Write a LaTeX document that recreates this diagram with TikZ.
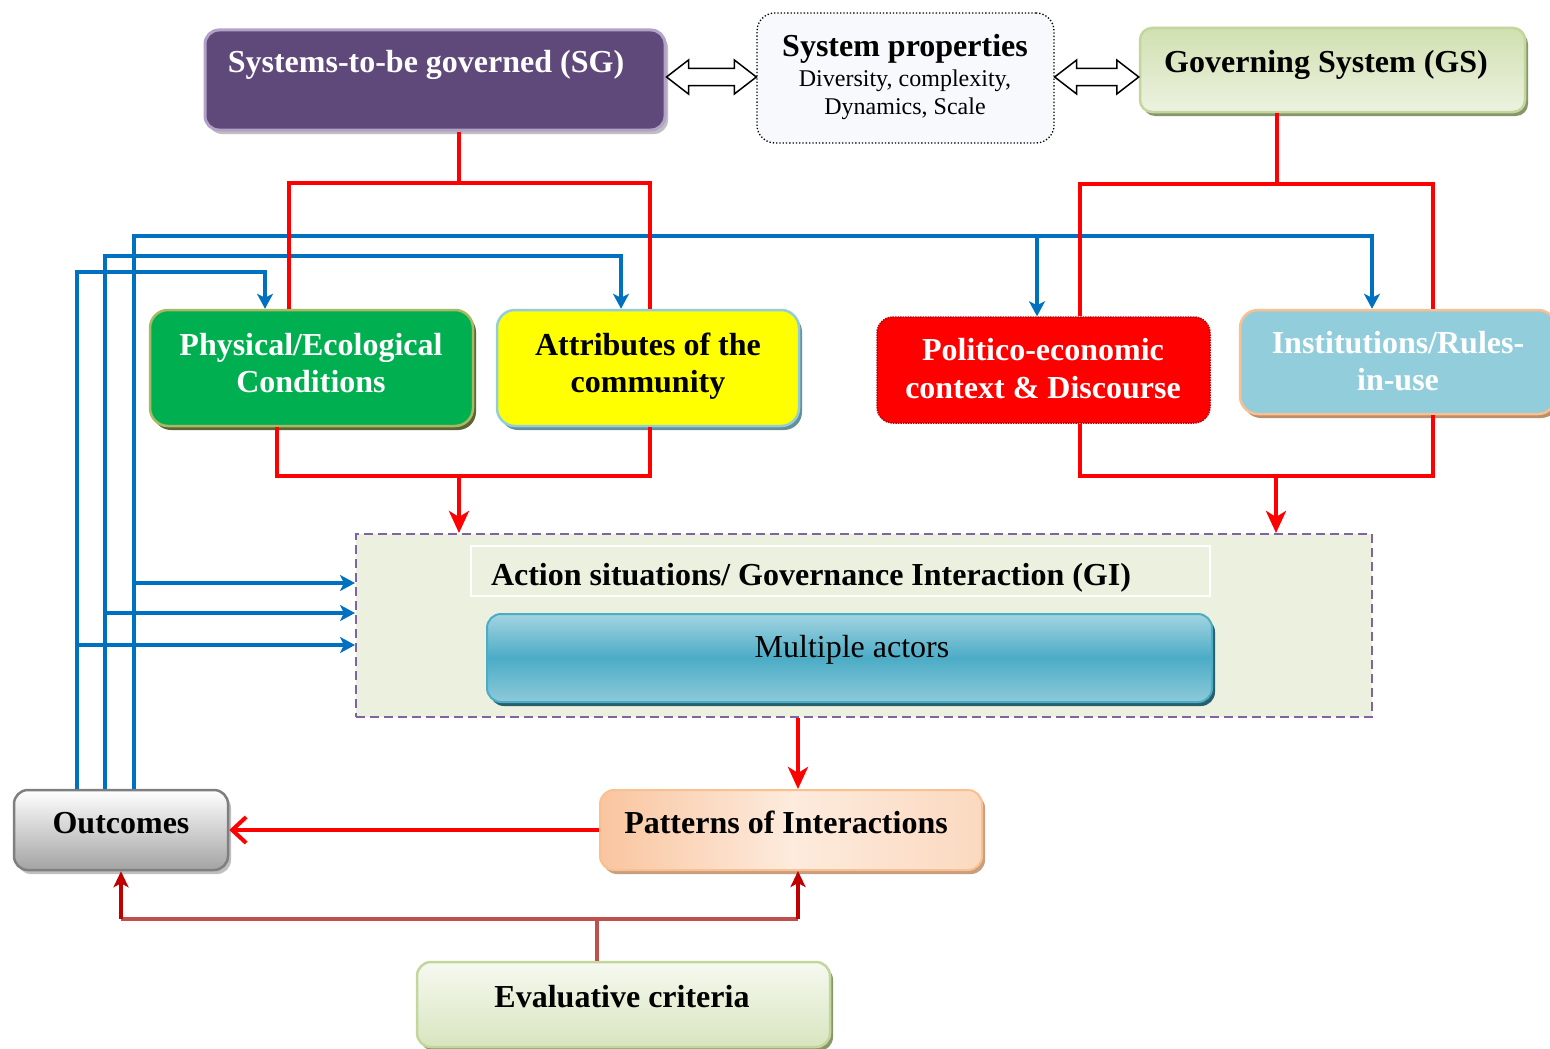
\documentclass[tikz,border=0pt]{standalone}
\usepackage{fontspec}
\setmainfont{Liberation Serif}
\usetikzlibrary{arrows.meta,shadows,calc}

\definecolor{sgfill}{HTML}{5F497A}
\definecolor{sgedge}{HTML}{B3A2C7}
\definecolor{gsedge}{HTML}{C3D69B}
\definecolor{gsA}{HTML}{D1E0B1}
\definecolor{gsB}{HTML}{ECF2E0}
\definecolor{physfill}{HTML}{00B050}
\definecolor{physedge}{HTML}{A9B863}
\definecolor{attrfill}{HTML}{FFFF00}
\definecolor{attredge}{HTML}{92CDDC}
\definecolor{poledge}{HTML}{C00000}
\definecolor{instfill}{HTML}{92CDDC}
\definecolor{instedge}{HTML}{FAC090}
\definecolor{actfill}{HTML}{EBF1DE}
\definecolor{actedge}{HTML}{8064A2}
\definecolor{mA}{HTML}{A3D4E1}
\definecolor{mB}{HTML}{4BACC6}
\definecolor{mC}{HTML}{8ECAD9}
\definecolor{medge}{HTML}{4BACC6}
\definecolor{patA}{HTML}{F9C59F}
\definecolor{patB}{HTML}{FDEBDD}
\definecolor{patC}{HTML}{FBD9C0}
\definecolor{patedge}{HTML}{FAC090}
\definecolor{outedge}{HTML}{7F7F7F}
\definecolor{evA}{HTML}{F6F9F0}
\definecolor{evB}{HTML}{D8E5BF}
\definecolor{spfill}{HTML}{F8F9FC}
\definecolor{linkred}{HTML}{FF0000}
\definecolor{linkblue}{HTML}{0070C0}
\definecolor{evline}{HTML}{C0504D}
\definecolor{evtip}{HTML}{C00000}

% double-headed hollow arrow between two anchors
\newcommand\twoway[2]{%
  \draw[twoway] let \p1=(#1), \p2=(#2) in
    (\x1,\y1) -- (\x1+22pt,\y1+17pt) -- (\x1+22pt,\y1+8.5pt)
    -- (\x2-22pt,\y1+8.5pt) -- (\x2-22pt,\y1+17pt) -- (\x2,\y1)
    -- (\x2-22pt,\y1-17pt) -- (\x2-22pt,\y1-8.5pt)
    -- (\x1+22pt,\y1-8.5pt) -- (\x1+22pt,\y1-17pt) -- cycle;}

\begin{document}
\begin{tikzpicture}[x=1pt,y=-1pt,
  dims/.style 2 args={minimum width=#1pt, minimum height=#2pt, inner sep=0pt},
  shade/.style={drop shadow={shadow xshift=3pt, shadow yshift=-4pt, fill=#1, opacity=1}},
  lbl/.style={font=\fontsize{32}{38}\selectfont\bfseries, inner sep=0pt, anchor=base},
  lblw/.style={lbl, text=white},
  lblreg/.style={font=\fontsize{32}{38}\selectfont, inner sep=0pt, anchor=base},
  lblsub/.style={font=\fontsize{24}{28}\selectfont, inner sep=0pt, anchor=base},
  twoway/.style={draw=black, fill=white, line width=1.5pt, line join=miter},
  redln/.style={draw=linkred, line width=4pt},
  redarr/.style={redln, -{Stealth[length=22pt,width=20pt,inset=6pt]}},
  redbarb/.style={redln, -{Straight Barb[length=14pt,width=26pt]}},
  bluearr/.style={draw=linkblue, line width=4pt, -{Stealth[length=15pt,width=16pt,inset=4pt]}},
  evln/.style={draw=evline, line width=4pt},
  evarr/.style={draw=evtip, line width=4pt, -{Stealth[length=16pt,width=15pt,inset=4pt]}},
]
\useasboundingbox (0,0) rectangle (1550,1049);
\fill[white] (0,0) rectangle (1550,1049);

% ---------- top row ----------
\node[dims={460}{100}, rounded corners=14pt, fill=sgfill, draw=sgedge,
      line width=3pt, shade=black!25] (sg) at (435,80) {};
\node[lblw] (sgT) at (426,73) {Systems-to-be governed (SG)};

\node[dims={297}{130}, rounded corners=18pt, fill=spfill, draw=black,
      line width=1.3pt, dotted] (sp) at (905.5,78) {};
\node[lbl] (spT) at (905,57) {System properties};
\node[lblsub] (spA) at (905,87) {Diversity, complexity,};
\node[lblsub] (spB) at (905,114) {Dynamics, Scale};

\node[dims={385}{84}, rounded corners=12pt, top color=gsA, bottom color=gsB,
      draw=gsedge, line width=2.5pt, shade=black!30!gsedge] (gs) at (1332.5,70) {};
\node[lbl] (gsT) at (1326,73) {Governing System (GS)};

\twoway{[yshift=3pt]sg.east}{sp.west}
\twoway{[yshift=1pt]sp.east}{gs.west}

% ---------- second row ----------
\node[dims={323}{116}, rounded corners=18pt, fill=physfill, draw=physedge,
      line width=2.5pt, shade=black!45!physedge] (phys) at (311.5,368) {};
\node[lblw] (physA) at (311,355) {Physical/Ecological};
\node[lblw] (physB) at (311,392) {Conditions};

\node[dims={302}{116}, rounded corners=18pt, fill=attrfill, draw=attredge,
      line width=2.5pt, shade=black!30!attredge] (attr) at (648,368) {};
\node[lbl] (attrA) at (648,355) {Attributes of the};
\node[lbl] (attrB) at (648,392) {community};

\node[dims={333}{106}, rounded corners=16pt, fill=linkred, draw=poledge,
      line width=1.5pt, densely dotted] (pol) at (1043.5,370) {};
\node[lblw] (polA) at (1043,360) {Politico-economic};
\node[lblw] (polB) at (1043,398) {context \& Discourse};

\node[dims={316}{104}, rounded corners=18pt, fill=instfill, draw=instedge,
      line width=2.5pt, shade=black!25!instedge] (inst) at (1398,362) {};
\node[lblw] (instA) at (1398,353) {Institutions/Rules-};
\node[lblw] (instB) at (1398,390) {in-use};

% ---------- action situation ----------
\node[dims={1016}{183}, fill=actfill, draw=actedge, line width=2pt,
      dash pattern=on 9pt off 5pt] (act) at (864,625.5) {};
\node[dims={739}{50}, draw=white, line width=1.5pt] (acttitle) at (840.5,571) {};
\node[lbl] (actT) at (811,585) {Action situations/ Governance Interaction (GI)};
\node[dims={725}{88}, rounded corners=14pt, top color=mA, bottom color=mC,
      middle color=mB, draw=medge, line width=2pt, shade=black!45!medge] (actors) at (849.5,658) {};
\node[lblreg] (actorsT) at (852,657) {Multiple actors};

% ---------- bottom row ----------
\node[dims={382}{80}, rounded corners=14pt, left color=patA, right color=patC,
      middle color=patB, draw=patedge, line width=2pt, shade=black!20!patA] (pat) at (791,830) {};
\node[lbl] (patT) at (786,833) {Patterns of Interactions};

\node[dims={214}{80}, rounded corners=14pt, top color=white, bottom color=black!36,
      draw=outedge, line width=2.5pt, shade=black!25] (out) at (121,830) {};
\node[lbl] (outT) at (121,833) {Outcomes};

\node[dims={413}{85}, rounded corners=14pt, top color=evA, bottom color=evB,
      draw=gsedge, line width=2.5pt, shade=black!30!gsedge] (eval) at (623.5,1004.5) {};
\node[lbl] (evalT) at (622,1007) {Evaluative criteria};

% ---------- feedback from outcomes (blue) ----------
\coordinate (b1) at (77,272);   \coordinate (b1e) at (265,272);
\coordinate (b2) at (105,256);  \coordinate (b2e) at (621,256);
\coordinate (b3) at (134,236);  \coordinate (b3e) at (1372,236);
\coordinate (b3m) at (1037,236);
\draw[bluearr] (out.north -| b1) -- (b1) -- (b1e) -- (phys.north -| b1e);
\draw[bluearr] (out.north -| b2) -- (b2) -- (b2e) -- (attr.north -| b2e);
\draw[bluearr] (out.north -| b3) -- (b3) -- (b3e) -- (inst.north -| b3e);
\draw[bluearr] (b3m) -- (pol.north -| b3m);
\coordinate (h1) at (134,583);
\coordinate (h2) at (105,613);
\coordinate (h3) at (77,645);
\draw[bluearr] (h1) -- (act.west |- h1);
\draw[bluearr] (h2) -- (act.west |- h2);
\draw[bluearr] (h3) -- (act.west |- h3);

% ---------- red structure lines ----------
\coordinate (sgJ) at (459,183);
\coordinate (sgL) at (289,183);  \coordinate (sgR) at (650,183);
\draw[redln] (sg.south -| sgJ) -- (sgJ);
\draw[redln] (phys.north -| sgL) -- (sgL) -- (sgR) -- (attr.north -| sgR);

\coordinate (gsJ) at (1277,184);
\coordinate (gsL) at (1080,184); \coordinate (gsR) at (1433,184);
\draw[redln] (gs.south -| gsJ) -- (gsJ);
\draw[redln] (pol.north -| gsL) -- (gsL) -- (gsR) -- (inst.north -| gsR);

\coordinate (loL) at (277,476); \coordinate (loR) at (650,476);
\coordinate (loJ) at (459,476);
\draw[redln] (phys.south -| loL) -- (loL) -- (loR) -- (attr.south -| loR);
\draw[redarr] (loJ) -- (act.north -| loJ);

\coordinate (roL) at (1080,476); \coordinate (roR) at (1433,476);
\coordinate (roJ) at (1276,476);
\draw[redln] (pol.south -| roL) -- (roL) -- (roR) -- (inst.south -| roR);
\draw[redarr] (roJ) -- (act.north -| roJ);

\coordinate (apX) at (798,0);
\draw[redarr] (act.south -| apX) -- (pat.north -| apX);
\draw[redbarb] (pat.west) -- (out.east);

% ---------- evaluative criteria links ----------
\coordinate (eJ) at (597,919);
\coordinate (eL) at (121,919);
\coordinate (eR) at (798,919);
\draw[evln] (eval.north -| eJ) -- (eJ);
\draw[evln] (eL) -- (eR);
\draw[evarr] (eL) -- (out.south);
\draw[evarr] (eR) -- (pat.south -| eR);
\end{tikzpicture}
\end{document}
